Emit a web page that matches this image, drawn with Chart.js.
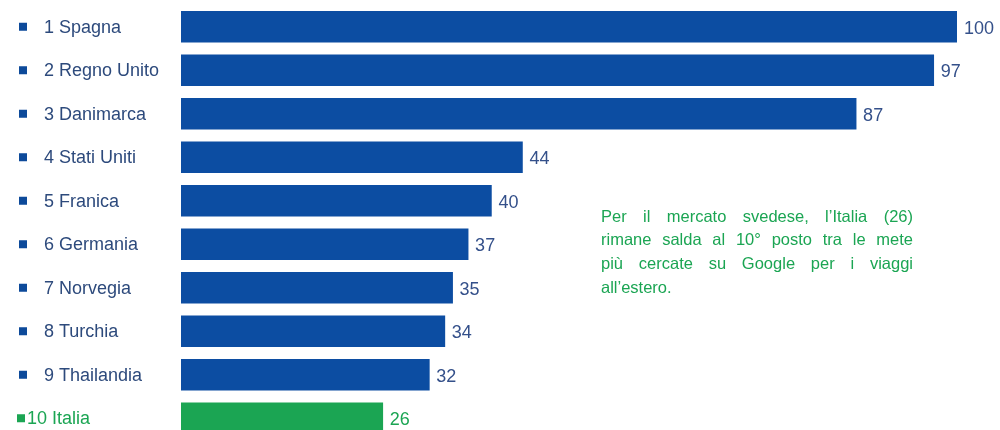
<!DOCTYPE html>
<html lang="it">
<head>
<meta charset="utf-8">
<script src="https://cdn.jsdelivr.net/npm/chart.js@4/dist/chart.umd.min.js"></script>
<style>
  html, body { margin: 0; padding: 0; background: #ffffff; overflow: hidden; }
  #wrap { position: relative; width: 1000px; height: 440px; }
</style>
</head>
<body>
<div id="wrap"><canvas id="c"></canvas></div>
<script>
// Ricerche su Google per viaggi all'estero dal mercato svedese (indice, 100 = massimo)
const categories = ['1 Spagna', '2 Regno Unito', '3 Danimarca', '4 Stati Uniti', '5 Franica',
                    '6 Germania', '7 Norvegia', '8 Turchia', '9 Thailandia', '10 Italia'];
const values = [100, 97, 87, 44, 40, 37, 35, 34, 32, 26];
const highlight = '10 Italia';
const noteLines = [
  'Per il mercato svedese, l\u2019Italia (26)',
  'rimane salda al 10\u00b0 posto tra le mete',
  'pi\u00f9 cercate su Google per i viaggi',
  'all\u2019estero.'
];

const BLUE = '#0c4da2';
const GREEN = '#1ba553';
const LABEL = '#2d4a7c';
const FONT = '"Liberation Sans", Arial, sans-serif';

const colorFor = c => c === highlight ? GREEN : BLUE;

// Etichette di categoria con quadratino, valori a destra delle barre e nota giustificata
const decorations = {
  id: 'decorations',
  afterDatasetsDraw(chart) {
    const ctx = chart.ctx;
    const y = chart.scales.y;
    const meta = chart.getDatasetMeta(0);
    ctx.save();
    ctx.font = '18px ' + FONT;
    ctx.textBaseline = 'middle';
    ctx.textAlign = 'left';
    categories.forEach((c, i) => {
      const py = y.getPixelForValue(i);
      const hi = c === highlight;
      ctx.fillStyle = hi ? GREEN : '#0d4a9a';
      ctx.fillRect(hi ? 17 : 19, py - 4, 8, 8);
      ctx.fillStyle = hi ? GREEN : LABEL;
      ctx.fillText(c, hi ? 27 : 44, py + 1);
      const bar = meta.data[i];
      ctx.fillStyle = hi ? GREEN : '#34508a';
      ctx.fillText(String(values[i]), bar.x + 7, py + 2);
    });

    // nota a destra, testo giustificato
    ctx.fillStyle = GREEN;
    ctx.font = '16.5px ' + FONT;
    const left = 601, right = 913, top = 217, lh = 23.7;
    noteLines.forEach((line, k) => {
      const py = top + k * lh;
      const words = line.split(' ');
      if (k === noteLines.length - 1 || words.length < 2) {
        ctx.fillText(line, left, py);
        return;
      }
      const wsum = words.reduce((s, w) => s + ctx.measureText(w).width, 0);
      const gap = (right - left - wsum) / (words.length - 1);
      let x = left;
      words.forEach(w => {
        ctx.fillText(w, x, py);
        x += ctx.measureText(w).width + gap;
      });
    });
    ctx.restore();
  }
};

new Chart(document.getElementById('c'), {
  type: 'bar',
  data: {
    labels: categories,
    datasets: [{
      data: values,
      backgroundColor: categories.map(colorFor),
      borderWidth: 0,
      barThickness: 31
    }]
  },
  options: {
    indexAxis: 'y',
    responsive: true,
    maintainAspectRatio: false,
    animation: false,
    layout: { padding: { left: 181, right: 43, top: 5, bottom: 0 } },
    scales: {
      x: { display: false, min: 0, max: 100 },
      y: { display: false }
    },
    plugins: {
      legend: { display: false },
      tooltip: { enabled: false }
    }
  },
  plugins: [decorations]
});
</script>
</body>
</html>
